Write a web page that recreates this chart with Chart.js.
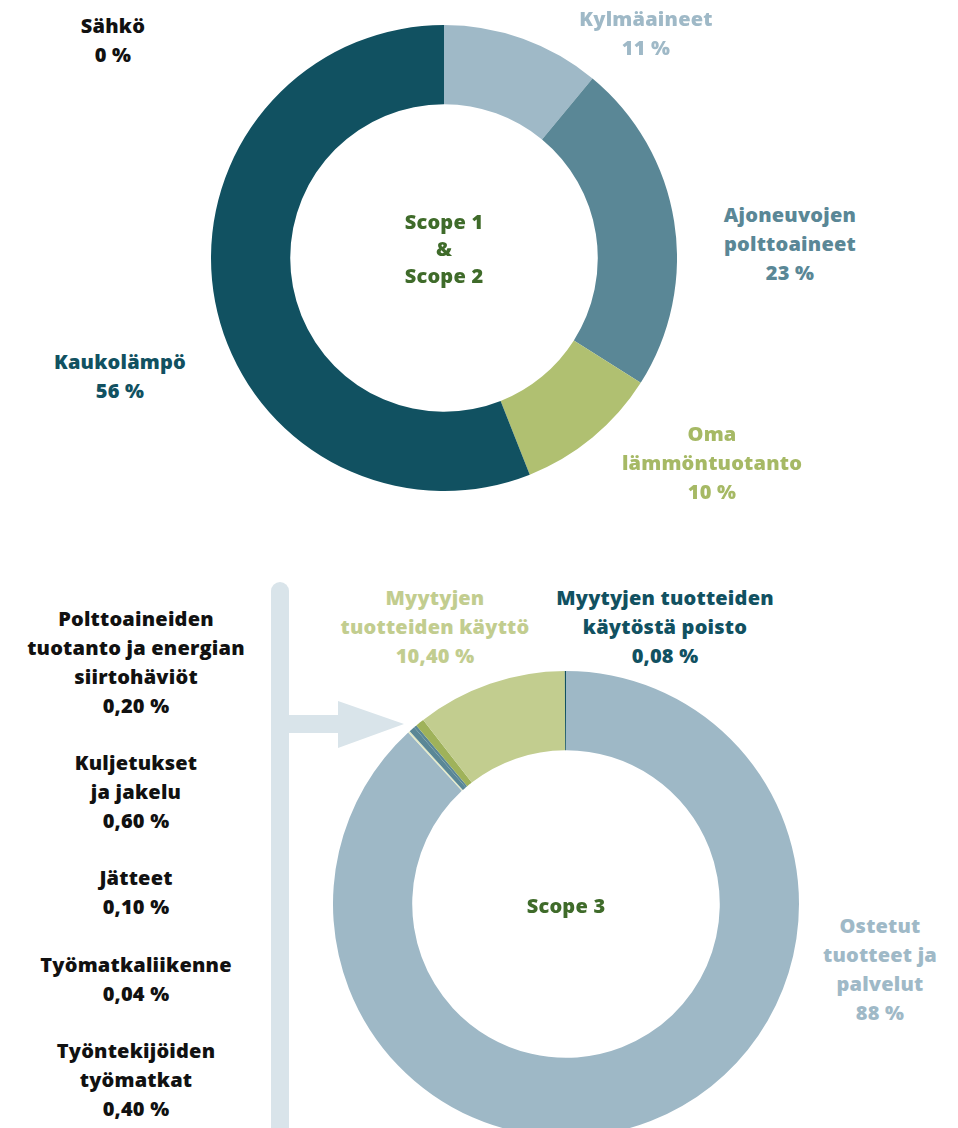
<!DOCTYPE html>
<html lang="fi">
<head>
<meta charset="utf-8">
<script src="https://cdn.jsdelivr.net/npm/chart.js@4"></script>
<style>
  html, body { margin: 0; padding: 0; background: #fff; }
  body { width: 958px; height: 1128px; position: relative; overflow: hidden;
         font-family: "Open Sans", "Noto Sans", sans-serif; font-weight: 800; }
  .lbl { position: absolute; transform: translateX(-50%); text-align: center;
         font-size: 20px; line-height: 29px; white-space: nowrap; letter-spacing: 0.2px; }
  canvas { position: absolute; }
  svg { position: absolute; left: 0; top: 0; }
</style>
</head>
<body>
<svg width="958" height="1128">
  <rect x="271" y="582" width="18" height="560" rx="9" fill="#d9e4ea"/>
  <rect x="280" y="715" width="60" height="18" fill="#d9e4ea"/>
  <polygon points="338,701 338,748 404,724" fill="#d9e4ea"/>
</svg>
<canvas id="scope12" width="466" height="466" style="left:211px;top:25px;width:466px;height:466px"></canvas>
<canvas id="scope3" width="466" height="466" style="left:333px;top:671px;width:466px;height:466px"></canvas>

<div class="lbl" style="left:113px;top:11px;color:#111">Sähkö<br>0 %</div>
<div class="lbl" style="left:646px;top:4px;color:#9fb9c7">Kylmäaineet<br>11 %</div>
<div class="lbl" style="left:790px;top:200px;color:#5a8796">Ajoneuvojen<br>polttoaineet<br>23 %</div>
<div class="lbl" style="left:712px;top:419px;color:#a6b965">Oma<br>lämmöntuotanto<br>10 %</div>
<div class="lbl" style="left:120px;top:347px;color:#115161">Kaukolämpö<br>56 %</div>
<div class="lbl" style="left:444px;top:208px;color:#3f6b2a;line-height:27px">Scope 1<br>&amp;<br>Scope 2</div>

<div class="lbl" style="left:435px;top:583px;color:#c2cd8f">Myytyjen<br>tuotteiden käyttö<br>10,40 %</div>
<div class="lbl" style="left:665px;top:583px;color:#115161">Myytyjen tuotteiden<br>käytöstä poisto<br>0,08 %</div>
<div class="lbl" style="left:136px;top:604px;color:#111">Polttoaineiden<br>tuotanto ja energian<br>siirtohäviöt<br>0,20 %</div>
<div class="lbl" style="left:136px;top:748px;color:#111">Kuljetukset<br>ja jakelu<br>0,60 %</div>
<div class="lbl" style="left:136px;top:863px;color:#111">Jätteet<br>0,10 %</div>
<div class="lbl" style="left:136px;top:950px;color:#111">Työmatkaliikenne<br>0,04 %</div>
<div class="lbl" style="left:136px;top:1036px;color:#111">Työntekijöiden<br>työmatkat<br>0,40 %</div>
<div class="lbl" style="left:566px;top:891px;color:#3f6b2a">Scope 3</div>
<div class="lbl" style="left:880px;top:911px;color:#9fb9c7">Ostetut<br>tuotteet ja<br>palvelut<br>88 %</div>

<script>
// Scope 1 & 2 (%), myötäpäivään ylhäältä
const scope12Labels = ['Kylmäaineet', 'Ajoneuvojen polttoaineet', 'Oma lämmöntuotanto', 'Kaukolämpö', 'Sähkö'];
const scope12Values = [11, 23, 10, 56, 0];
const scope12Colors = ['#9fb9c7', '#5a8796', '#b0c071', '#115161', '#111111'];

// Scope 3 (%)
const scope3Labels = ['Ostetut tuotteet ja palvelut', 'Työmatkaliikenne', 'Jätteet', 'Työntekijöiden työmatkat',
                      'Polttoaineiden tuotanto ja energian siirtohäviöt', 'Kuljetukset ja jakelu',
                      'Myytyjen tuotteiden käyttö', 'Myytyjen tuotteiden käytöstä poisto'];
const scope3Values = [88, 0.04, 0.10, 0.40, 0.20, 0.60, 10.40, 0.08];
const scope3Colors = ['#9eb8c6', '#dfe7c1', '#dfe7c1', '#5a8796', '#5a8796', '#9fb25a', '#c2cd8f', '#115161'];

function donitsi(id, labels, values, colors) {
    return new Chart(document.getElementById(id), {
        type: 'doughnut',
        data: {
            labels: labels,
            datasets: [{
                data: values,
                backgroundColor: colors,
                borderWidth: 0
            }]
        },
        options: {
            responsive: false,
            animation: false,
            devicePixelRatio: 1,
            cutout: '66%',
            layout: { padding: 0 },
            plugins: {
                legend: { display: false },
                tooltip: { enabled: false }
            }
        }
    });
}

donitsi('scope12', scope12Labels, scope12Values, scope12Colors);
donitsi('scope3', scope3Labels, scope3Values, scope3Colors);
</script>
</body>
</html>
